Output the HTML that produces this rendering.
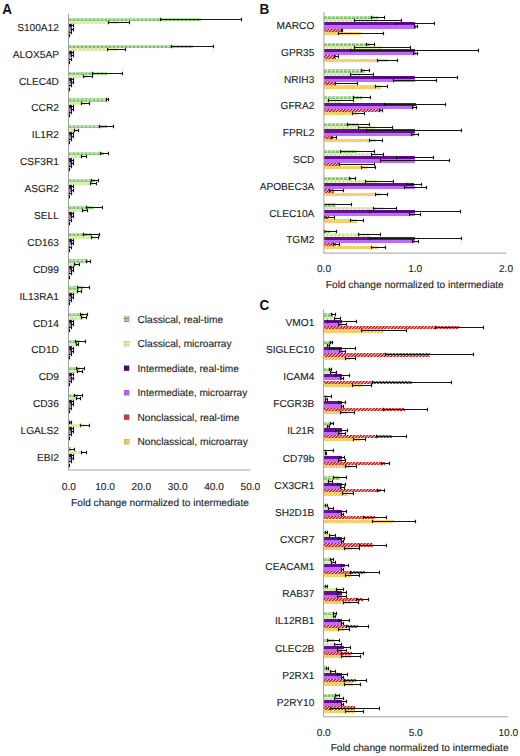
<!DOCTYPE html>
<html><head><meta charset="utf-8"><style>
html,body{margin:0;padding:0;background:#fff;}
body{width:520px;height:756px;overflow:hidden;}
svg{display:block;}
</style></head><body>
<svg width="520" height="756" viewBox="0 0 520 756">
<defs>
<pattern id="pCRT" patternUnits="userSpaceOnUse" width="4" height="3.2" x="0" y="0">
<rect width="4" height="3.2" fill="#c8ecbc"/><rect y="0.3" width="4" height="1.1" fill="#a0d09c"/><rect y="1.7" width="4" height="1.4" fill="#72b856"/><rect x="3" width="1" height="3.2" fill="#d4f2c8"/></pattern>
<pattern id="pCMA" patternUnits="userSpaceOnUse" width="4" height="3.2">
<rect width="4" height="3.2" fill="#eaf7c0"/><rect y="1.3" width="4" height="0.8" fill="#cfe9a2"/><rect x="3" width="1" height="3.2" fill="#bfe396"/></pattern>
<pattern id="pNRT" patternUnits="userSpaceOnUse" width="2.3" height="4" patternTransform="rotate(45)">
<rect width="2.3" height="4" fill="#d61c1c"/><rect width="0.75" height="4" fill="#fff0f0"/></pattern>
<pattern id="pNMA" patternUnits="userSpaceOnUse" width="2.3" height="4" patternTransform="rotate(45)">
<rect width="2.3" height="4" fill="#fcc038"/><rect width="0.75" height="4" fill="#fff4c8"/></pattern>
<pattern id="lCRT" patternUnits="userSpaceOnUse" width="5.2" height="2.6" y="0.2">
<rect width="5.2" height="2.6" fill="#a8dc98"/><rect y="0.9" width="5.2" height="0.9" fill="#4a9a44"/></pattern>
<pattern id="lCMA" patternUnits="userSpaceOnUse" width="5.2" height="2.6" y="0.2">
<rect width="5.2" height="2.6" fill="#e4f4b8"/><rect y="0.9" width="5.2" height="0.9" fill="#b8dc80"/></pattern>
</defs>
<rect width="520" height="756" fill="#fff"/>
<g shape-rendering="crispEdges">
<rect transform="translate(68.5 17.82)" width="132.2" height="3.2" fill="url(#pCRT)"/>
<rect transform="translate(68.5 21.02)" width="50.2" height="3.2" fill="url(#pCMA)"/>
<rect transform="translate(68.5 24.22)" width="3.6" height="3.2" fill="#650d93"/>
<rect transform="translate(68.5 27.42)" width="3.6" height="3.2" fill="#bd6cf8"/>
<rect transform="translate(68.5 30.62)" width="1.5" height="3.2" fill="url(#pNRT)"/>
<rect transform="translate(68.5 33.82)" width="0.7" height="3.2" fill="url(#pNMA)"/>
<rect transform="translate(68.5 44.67)" width="124" height="3.2" fill="url(#pCRT)"/>
<rect transform="translate(68.5 47.87)" width="48" height="3.2" fill="url(#pCMA)"/>
<rect transform="translate(68.5 51.07)" width="3.6" height="3.2" fill="#650d93"/>
<rect transform="translate(68.5 54.27)" width="3.6" height="3.2" fill="#bd6cf8"/>
<rect transform="translate(68.5 57.47)" width="1.5" height="3.2" fill="url(#pNRT)"/>
<rect transform="translate(68.5 60.67)" width="0.7" height="3.2" fill="url(#pNMA)"/>
<rect transform="translate(68.5 71.52)" width="38.75" height="3.2" fill="url(#pCRT)"/>
<rect transform="translate(68.5 74.72)" width="19.4" height="3.2" fill="url(#pCMA)"/>
<rect transform="translate(68.5 77.92)" width="3.6" height="3.2" fill="#650d93"/>
<rect transform="translate(68.5 81.12)" width="3.6" height="3.2" fill="#bd6cf8"/>
<rect transform="translate(68.5 84.32)" width="1.5" height="3.2" fill="url(#pNRT)"/>
<rect transform="translate(68.5 87.52)" width="0.7" height="3.2" fill="url(#pNMA)"/>
<rect transform="translate(68.5 98.38)" width="38.5" height="3.2" fill="url(#pCRT)"/>
<rect transform="translate(68.5 101.58)" width="16.9" height="3.2" fill="url(#pCMA)"/>
<rect transform="translate(68.5 104.78)" width="3.6" height="3.2" fill="#650d93"/>
<rect transform="translate(68.5 107.97)" width="3.6" height="3.2" fill="#bd6cf8"/>
<rect transform="translate(68.5 111.17)" width="1.5" height="3.2" fill="url(#pNRT)"/>
<rect transform="translate(68.5 114.38)" width="0.7" height="3.2" fill="url(#pNMA)"/>
<rect transform="translate(68.5 125.22)" width="38.1" height="3.2" fill="url(#pCRT)"/>
<rect transform="translate(68.5 128.42)" width="8.2" height="3.2" fill="url(#pCMA)"/>
<rect transform="translate(68.5 131.62)" width="3.6" height="3.2" fill="#650d93"/>
<rect transform="translate(68.5 134.82)" width="3.6" height="3.2" fill="#bd6cf8"/>
<rect transform="translate(68.5 138.03)" width="1.5" height="3.2" fill="url(#pNRT)"/>
<rect transform="translate(68.5 141.22)" width="0.7" height="3.2" fill="url(#pNMA)"/>
<rect transform="translate(68.5 152.07)" width="35.9" height="3.2" fill="url(#pCRT)"/>
<rect transform="translate(68.5 155.27)" width="15.4" height="3.2" fill="url(#pCMA)"/>
<rect transform="translate(68.5 158.47)" width="3.6" height="3.2" fill="#650d93"/>
<rect transform="translate(68.5 161.67)" width="3.6" height="3.2" fill="#bd6cf8"/>
<rect transform="translate(68.5 164.88)" width="1.5" height="3.2" fill="url(#pNRT)"/>
<rect transform="translate(68.5 168.07)" width="0.7" height="3.2" fill="url(#pNMA)"/>
<rect transform="translate(68.5 178.92)" width="26.4" height="3.2" fill="url(#pCRT)"/>
<rect transform="translate(68.5 182.12)" width="24.8" height="3.2" fill="url(#pCMA)"/>
<rect transform="translate(68.5 185.32)" width="3.6" height="3.2" fill="#650d93"/>
<rect transform="translate(68.5 188.52)" width="3.6" height="3.2" fill="#bd6cf8"/>
<rect transform="translate(68.5 191.72)" width="1.5" height="3.2" fill="url(#pNRT)"/>
<rect transform="translate(68.5 194.92)" width="0.7" height="3.2" fill="url(#pNMA)"/>
<rect transform="translate(68.5 205.77)" width="25.7" height="3.2" fill="url(#pCRT)"/>
<rect transform="translate(68.5 208.97)" width="16.8" height="3.2" fill="url(#pCMA)"/>
<rect transform="translate(68.5 212.17)" width="3.6" height="3.2" fill="#650d93"/>
<rect transform="translate(68.5 215.37)" width="3.6" height="3.2" fill="#bd6cf8"/>
<rect transform="translate(68.5 218.57)" width="1.5" height="3.2" fill="url(#pNRT)"/>
<rect transform="translate(68.5 221.77)" width="0.7" height="3.2" fill="url(#pNMA)"/>
<rect transform="translate(68.5 232.62)" width="23" height="3.2" fill="url(#pCRT)"/>
<rect transform="translate(68.5 235.82)" width="26.7" height="3.2" fill="url(#pCMA)"/>
<rect transform="translate(68.5 239.02)" width="3.6" height="3.2" fill="#650d93"/>
<rect transform="translate(68.5 242.22)" width="3.6" height="3.2" fill="#bd6cf8"/>
<rect transform="translate(68.5 245.42)" width="1.5" height="3.2" fill="url(#pNRT)"/>
<rect transform="translate(68.5 248.62)" width="0.7" height="3.2" fill="url(#pNMA)"/>
<rect transform="translate(68.5 259.47)" width="19.9" height="3.2" fill="url(#pCRT)"/>
<rect transform="translate(68.5 262.67)" width="8.8" height="3.2" fill="url(#pCMA)"/>
<rect transform="translate(68.5 265.87)" width="3.6" height="3.2" fill="#650d93"/>
<rect transform="translate(68.5 269.07)" width="3.6" height="3.2" fill="#bd6cf8"/>
<rect transform="translate(68.5 272.27)" width="1.5" height="3.2" fill="url(#pNRT)"/>
<rect transform="translate(68.5 275.47)" width="0.7" height="3.2" fill="url(#pNMA)"/>
<rect transform="translate(68.5 286.32)" width="14.8" height="3.2" fill="url(#pCRT)"/>
<rect transform="translate(68.5 289.52)" width="10.7" height="3.2" fill="url(#pCMA)"/>
<rect transform="translate(68.5 292.72)" width="3.6" height="3.2" fill="#650d93"/>
<rect transform="translate(68.5 295.93)" width="3.6" height="3.2" fill="#bd6cf8"/>
<rect transform="translate(68.5 299.12)" width="1.5" height="3.2" fill="url(#pNRT)"/>
<rect transform="translate(68.5 302.32)" width="0.7" height="3.2" fill="url(#pNMA)"/>
<rect transform="translate(68.5 313.17)" width="15.4" height="3.2" fill="url(#pCRT)"/>
<rect transform="translate(68.5 316.37)" width="15.5" height="3.2" fill="url(#pCMA)"/>
<rect transform="translate(68.5 319.57)" width="3.6" height="3.2" fill="#650d93"/>
<rect transform="translate(68.5 322.77)" width="3.6" height="3.2" fill="#bd6cf8"/>
<rect transform="translate(68.5 325.97)" width="1.5" height="3.2" fill="url(#pNRT)"/>
<rect transform="translate(68.5 329.17)" width="0.7" height="3.2" fill="url(#pNMA)"/>
<rect transform="translate(68.5 340.02)" width="11.9" height="3.2" fill="url(#pCRT)"/>
<rect transform="translate(68.5 343.22)" width="8.9" height="3.2" fill="url(#pCMA)"/>
<rect transform="translate(68.5 346.42)" width="3.6" height="3.2" fill="#650d93"/>
<rect transform="translate(68.5 349.62)" width="3.6" height="3.2" fill="#bd6cf8"/>
<rect transform="translate(68.5 352.82)" width="1.5" height="3.2" fill="url(#pNRT)"/>
<rect transform="translate(68.5 356.02)" width="0.7" height="3.2" fill="url(#pNMA)"/>
<rect transform="translate(68.5 366.87)" width="11.5" height="3.2" fill="url(#pCRT)"/>
<rect transform="translate(68.5 370.07)" width="11.3" height="3.2" fill="url(#pCMA)"/>
<rect transform="translate(68.5 373.27)" width="3.6" height="3.2" fill="#650d93"/>
<rect transform="translate(68.5 376.47)" width="3.6" height="3.2" fill="#bd6cf8"/>
<rect transform="translate(68.5 379.67)" width="1.5" height="3.2" fill="url(#pNRT)"/>
<rect transform="translate(68.5 382.87)" width="0.7" height="3.2" fill="url(#pNMA)"/>
<rect transform="translate(68.5 393.72)" width="9.9" height="3.2" fill="url(#pCRT)"/>
<rect transform="translate(68.5 396.92)" width="10.1" height="3.2" fill="url(#pCMA)"/>
<rect transform="translate(68.5 400.12)" width="3.6" height="3.2" fill="#650d93"/>
<rect transform="translate(68.5 403.32)" width="3.6" height="3.2" fill="#bd6cf8"/>
<rect transform="translate(68.5 406.52)" width="1.5" height="3.2" fill="url(#pNRT)"/>
<rect transform="translate(68.5 409.72)" width="0.7" height="3.2" fill="url(#pNMA)"/>
<rect transform="translate(68.5 420.57)" width="2" height="3.2" fill="url(#pCRT)"/>
<rect transform="translate(68.5 423.77)" width="16.8" height="3.2" fill="url(#pCMA)"/>
<rect transform="translate(68.5 426.97)" width="3.6" height="3.2" fill="#650d93"/>
<rect transform="translate(68.5 430.17)" width="3.6" height="3.2" fill="#bd6cf8"/>
<rect transform="translate(68.5 433.37)" width="1.5" height="3.2" fill="url(#pNRT)"/>
<rect transform="translate(68.5 436.57)" width="0.7" height="3.2" fill="url(#pNMA)"/>
<rect transform="translate(68.5 447.42)" width="2.9" height="3.2" fill="url(#pCRT)"/>
<rect transform="translate(68.5 450.62)" width="15.6" height="3.2" fill="url(#pCMA)"/>
<rect transform="translate(68.5 453.82)" width="3.6" height="3.2" fill="#650d93"/>
<rect transform="translate(68.5 457.02)" width="3.6" height="3.2" fill="#bd6cf8"/>
<rect transform="translate(68.5 460.22)" width="1.5" height="3.2" fill="url(#pNRT)"/>
<rect transform="translate(68.5 463.42)" width="0.7" height="3.2" fill="url(#pNMA)"/>
<rect transform="translate(323.9 15.79)" width="53.85" height="3.2" fill="url(#pCRT)"/>
<rect transform="translate(323.9 18.99)" width="54.1" height="3.2" fill="url(#pCMA)"/>
<rect transform="translate(323.9 22.19)" width="91" height="3.2" fill="#650d93"/>
<rect transform="translate(323.9 25.39)" width="91.6" height="3.2" fill="#bd6cf8"/>
<rect transform="translate(323.9 28.59)" width="17.85" height="3.2" fill="url(#pNRT)"/>
<rect transform="translate(323.9 31.79)" width="37.1" height="3.2" fill="url(#pNMA)"/>
<rect transform="translate(323.9 42.58)" width="46.6" height="3.2" fill="url(#pCRT)"/>
<rect transform="translate(323.9 45.78)" width="58.5" height="3.2" fill="url(#pCMA)"/>
<rect transform="translate(323.9 48.98)" width="90.7" height="3.2" fill="#650d93"/>
<rect transform="translate(323.9 52.18)" width="91.6" height="3.2" fill="#bd6cf8"/>
<rect transform="translate(323.9 55.38)" width="12.1" height="3.2" fill="url(#pNRT)"/>
<rect transform="translate(323.9 58.58)" width="63.6" height="3.2" fill="url(#pNMA)"/>
<rect transform="translate(323.9 69.37)" width="41.4" height="3.2" fill="url(#pCRT)"/>
<rect transform="translate(323.9 72.57)" width="37.6" height="3.2" fill="url(#pCMA)"/>
<rect transform="translate(323.9 75.77)" width="91.1" height="3.2" fill="#650d93"/>
<rect transform="translate(323.9 78.97)" width="91" height="3.2" fill="#bd6cf8"/>
<rect transform="translate(323.9 82.17)" width="11.5" height="3.2" fill="url(#pNRT)"/>
<rect transform="translate(323.9 85.37)" width="57.6" height="3.2" fill="url(#pNMA)"/>
<rect transform="translate(323.9 96.16)" width="38.1" height="3.2" fill="url(#pCRT)"/>
<rect transform="translate(323.9 99.36)" width="17.1" height="3.2" fill="url(#pCMA)"/>
<rect transform="translate(323.9 102.56)" width="91.6" height="3.2" fill="#650d93"/>
<rect transform="translate(323.9 105.76)" width="90.35" height="3.2" fill="#bd6cf8"/>
<rect transform="translate(323.9 108.96)" width="56.9" height="3.2" fill="url(#pNRT)"/>
<rect transform="translate(323.9 112.16)" width="34.5" height="3.2" fill="url(#pNMA)"/>
<rect transform="translate(323.9 122.95)" width="34.5" height="3.2" fill="url(#pCRT)"/>
<rect transform="translate(323.9 126.15)" width="51.35" height="3.2" fill="url(#pCMA)"/>
<rect transform="translate(323.9 129.35)" width="91.1" height="3.2" fill="#650d93"/>
<rect transform="translate(323.9 132.55)" width="90.85" height="3.2" fill="#bd6cf8"/>
<rect transform="translate(323.9 135.75)" width="9.1" height="3.2" fill="url(#pNRT)"/>
<rect transform="translate(323.9 138.95)" width="52" height="3.2" fill="url(#pNMA)"/>
<rect transform="translate(323.9 149.74)" width="33.1" height="3.2" fill="url(#pCRT)"/>
<rect transform="translate(323.9 152.94)" width="53.7" height="3.2" fill="url(#pCMA)"/>
<rect transform="translate(323.9 156.14)" width="90.85" height="3.2" fill="#650d93"/>
<rect transform="translate(323.9 159.34)" width="90.85" height="3.2" fill="#bd6cf8"/>
<rect transform="translate(323.9 162.54)" width="15.4" height="3.2" fill="url(#pNRT)"/>
<rect transform="translate(323.9 165.74)" width="44.5" height="3.2" fill="url(#pNMA)"/>
<rect transform="translate(323.9 176.53)" width="28.5" height="3.2" fill="url(#pCRT)"/>
<rect transform="translate(323.9 179.73)" width="55.6" height="3.2" fill="url(#pCMA)"/>
<rect transform="translate(323.9 182.93)" width="90.35" height="3.2" fill="#650d93"/>
<rect transform="translate(323.9 186.13)" width="91.2" height="3.2" fill="#bd6cf8"/>
<rect transform="translate(323.9 189.33)" width="10.6" height="3.2" fill="url(#pNRT)"/>
<rect transform="translate(323.9 192.53)" width="57.35" height="3.2" fill="url(#pNMA)"/>
<rect transform="translate(323.9 203.32)" width="12.6" height="3.2" fill="url(#pCRT)"/>
<rect transform="translate(323.9 206.52)" width="61.1" height="3.2" fill="url(#pCMA)"/>
<rect transform="translate(323.9 209.72)" width="91.1" height="3.2" fill="#650d93"/>
<rect transform="translate(323.9 212.92)" width="91" height="3.2" fill="#bd6cf8"/>
<rect transform="translate(323.9 216.12)" width="5.1" height="3.2" fill="url(#pNRT)"/>
<rect transform="translate(323.9 219.32)" width="33.1" height="3.2" fill="url(#pNMA)"/>
<rect transform="translate(323.9 230.11)" width="6.1" height="3.2" fill="url(#pCRT)"/>
<rect transform="translate(323.9 233.31)" width="45.35" height="3.2" fill="url(#pCMA)"/>
<rect transform="translate(323.9 236.51)" width="91.1" height="3.2" fill="#650d93"/>
<rect transform="translate(323.9 239.71)" width="91.35" height="3.2" fill="#bd6cf8"/>
<rect transform="translate(323.9 242.91)" width="12.1" height="3.2" fill="url(#pNRT)"/>
<rect transform="translate(323.9 246.11)" width="54.5" height="3.2" fill="url(#pNMA)"/>
<rect transform="translate(323.6 313.38)" width="9.4" height="3.2" fill="url(#pCRT)"/>
<rect transform="translate(323.6 316.58)" width="14" height="3.2" fill="url(#pCMA)"/>
<rect transform="translate(323.6 319.78)" width="18.3" height="3.2" fill="#650d93"/>
<rect transform="translate(323.6 322.98)" width="18.6" height="3.2" fill="#bd6cf8"/>
<rect transform="translate(323.6 326.18)" width="135.4" height="3.2" fill="url(#pNRT)"/>
<rect transform="translate(323.6 329.38)" width="60.1" height="3.2" fill="url(#pNMA)"/>
<rect transform="translate(323.6 340.54)" width="7.4" height="3.2" fill="url(#pCRT)"/>
<rect transform="translate(323.6 343.74)" width="4.8" height="3.2" fill="url(#pCMA)"/>
<rect transform="translate(323.6 346.94)" width="18.6" height="3.2" fill="#650d93"/>
<rect transform="translate(323.6 350.14)" width="18.9" height="3.2" fill="#bd6cf8"/>
<rect transform="translate(323.6 353.34)" width="106" height="3.2" fill="url(#pNRT)"/>
<rect transform="translate(323.6 356.54)" width="27" height="3.2" fill="url(#pNMA)"/>
<rect transform="translate(323.6 367.7)" width="6.4" height="3.2" fill="url(#pCRT)"/>
<rect transform="translate(323.6 370.9)" width="9.4" height="3.2" fill="url(#pCMA)"/>
<rect transform="translate(323.6 374.1)" width="18.4" height="3.2" fill="#650d93"/>
<rect transform="translate(323.6 377.3)" width="18.4" height="3.2" fill="#bd6cf8"/>
<rect transform="translate(323.6 380.5)" width="88.4" height="3.2" fill="url(#pNRT)"/>
<rect transform="translate(323.6 383.7)" width="38.4" height="3.2" fill="url(#pNMA)"/>
<rect transform="translate(323.6 394.86)" width="3.4" height="3.2" fill="url(#pCRT)"/>
<rect transform="translate(323.6 398.06)" width="2.4" height="3.2" fill="url(#pCMA)"/>
<rect transform="translate(323.6 401.26)" width="18.4" height="3.2" fill="#650d93"/>
<rect transform="translate(323.6 404.46)" width="18.4" height="3.2" fill="#bd6cf8"/>
<rect transform="translate(323.6 407.66)" width="81.8" height="3.2" fill="url(#pNRT)"/>
<rect transform="translate(323.6 410.86)" width="23.8" height="3.2" fill="url(#pNMA)"/>
<rect transform="translate(323.6 422.02)" width="8.3" height="3.2" fill="url(#pCRT)"/>
<rect transform="translate(323.6 425.22)" width="4.8" height="3.2" fill="url(#pCMA)"/>
<rect transform="translate(323.6 428.42)" width="17.9" height="3.2" fill="#650d93"/>
<rect transform="translate(323.6 431.62)" width="18.4" height="3.2" fill="#bd6cf8"/>
<rect transform="translate(323.6 434.82)" width="68.3" height="3.2" fill="url(#pNRT)"/>
<rect transform="translate(323.6 438.02)" width="35.9" height="3.2" fill="url(#pNMA)"/>
<rect transform="translate(323.6 449.18)" width="2.4" height="3.2" fill="url(#pCRT)"/>
<rect transform="translate(323.6 452.38)" width="2.4" height="3.2" fill="url(#pCMA)"/>
<rect transform="translate(323.6 455.58)" width="18.4" height="3.2" fill="#650d93"/>
<rect transform="translate(323.6 458.78)" width="18.4" height="3.2" fill="#bd6cf8"/>
<rect transform="translate(323.6 461.98)" width="61.7" height="3.2" fill="url(#pNRT)"/>
<rect transform="translate(323.6 465.18)" width="27.4" height="3.2" fill="url(#pNMA)"/>
<rect transform="translate(323.6 476.34)" width="16.4" height="3.2" fill="url(#pCRT)"/>
<rect transform="translate(323.6 479.54)" width="6.9" height="3.2" fill="url(#pCMA)"/>
<rect transform="translate(323.6 482.74)" width="18" height="3.2" fill="#650d93"/>
<rect transform="translate(323.6 485.94)" width="18.4" height="3.2" fill="#bd6cf8"/>
<rect transform="translate(323.6 489.14)" width="57.4" height="3.2" fill="url(#pNRT)"/>
<rect transform="translate(323.6 492.34)" width="24.1" height="3.2" fill="url(#pNMA)"/>
<rect transform="translate(323.6 503.5)" width="2.4" height="3.2" fill="url(#pCRT)"/>
<rect transform="translate(323.6 506.7)" width="7.1" height="3.2" fill="url(#pCMA)"/>
<rect transform="translate(323.6 509.9)" width="18.6" height="3.2" fill="#650d93"/>
<rect transform="translate(323.6 513.1)" width="18.4" height="3.2" fill="#bd6cf8"/>
<rect transform="translate(323.6 516.3)" width="50.9" height="3.2" fill="url(#pNRT)"/>
<rect transform="translate(323.6 519.5)" width="70" height="3.2" fill="url(#pNMA)"/>
<rect transform="translate(323.6 530.66)" width="2.5" height="3.2" fill="url(#pCRT)"/>
<rect transform="translate(323.6 533.86)" width="8.8" height="3.2" fill="url(#pCMA)"/>
<rect transform="translate(323.6 537.06)" width="18.1" height="3.2" fill="#650d93"/>
<rect transform="translate(323.6 540.26)" width="18.4" height="3.2" fill="#bd6cf8"/>
<rect transform="translate(323.6 543.46)" width="49.3" height="3.2" fill="url(#pNRT)"/>
<rect transform="translate(323.6 546.66)" width="28.3" height="3.2" fill="url(#pNMA)"/>
<rect transform="translate(323.6 557.82)" width="8.4" height="3.2" fill="url(#pCRT)"/>
<rect transform="translate(323.6 561.02)" width="10" height="3.2" fill="url(#pCMA)"/>
<rect transform="translate(323.6 564.22)" width="20.9" height="3.2" fill="#650d93"/>
<rect transform="translate(323.6 567.42)" width="18.4" height="3.2" fill="#bd6cf8"/>
<rect transform="translate(323.6 570.62)" width="41.5" height="3.2" fill="url(#pNRT)"/>
<rect transform="translate(323.6 573.82)" width="28.8" height="3.2" fill="url(#pNMA)"/>
<rect transform="translate(323.6 584.98)" width="2.4" height="3.2" fill="url(#pCRT)"/>
<rect transform="translate(323.6 588.18)" width="16.6" height="3.2" fill="url(#pCMA)"/>
<rect transform="translate(323.6 591.38)" width="18.4" height="3.2" fill="#650d93"/>
<rect transform="translate(323.6 594.58)" width="18.4" height="3.2" fill="#bd6cf8"/>
<rect transform="translate(323.6 597.78)" width="38.9" height="3.2" fill="url(#pNRT)"/>
<rect transform="translate(323.6 600.98)" width="27.3" height="3.2" fill="url(#pNMA)"/>
<rect transform="translate(323.6 612.14)" width="11" height="3.2" fill="url(#pCRT)"/>
<rect transform="translate(323.6 615.34)" width="10.6" height="3.2" fill="url(#pCMA)"/>
<rect transform="translate(323.6 618.54)" width="18.4" height="3.2" fill="#650d93"/>
<rect transform="translate(323.6 621.74)" width="18.4" height="3.2" fill="#bd6cf8"/>
<rect transform="translate(323.6 624.94)" width="34" height="3.2" fill="url(#pNRT)"/>
<rect transform="translate(323.6 628.14)" width="20.4" height="3.2" fill="url(#pNMA)"/>
<rect transform="translate(323.6 639.3)" width="10" height="3.2" fill="url(#pCRT)"/>
<rect transform="translate(323.6 642.5)" width="14" height="3.2" fill="url(#pCMA)"/>
<rect transform="translate(323.6 645.7)" width="20.4" height="3.2" fill="#650d93"/>
<rect transform="translate(323.6 648.9)" width="18.4" height="3.2" fill="#bd6cf8"/>
<rect transform="translate(323.6 652.1)" width="28.8" height="3.2" fill="url(#pNRT)"/>
<rect transform="translate(323.6 655.3)" width="26.9" height="3.2" fill="url(#pNMA)"/>
<rect transform="translate(323.6 666.46)" width="3.6" height="3.2" fill="url(#pCRT)"/>
<rect transform="translate(323.6 669.66)" width="8.9" height="3.2" fill="url(#pCMA)"/>
<rect transform="translate(323.6 672.86)" width="18.4" height="3.2" fill="#650d93"/>
<rect transform="translate(323.6 676.06)" width="18.4" height="3.2" fill="#bd6cf8"/>
<rect transform="translate(323.6 679.26)" width="31.9" height="3.2" fill="url(#pNRT)"/>
<rect transform="translate(323.6 682.46)" width="29" height="3.2" fill="url(#pNMA)"/>
<rect transform="translate(323.6 693.62)" width="14" height="3.2" fill="url(#pCRT)"/>
<rect transform="translate(323.6 696.82)" width="15.2" height="3.2" fill="url(#pCMA)"/>
<rect transform="translate(323.6 700.02)" width="18.4" height="3.2" fill="#650d93"/>
<rect transform="translate(323.6 703.22)" width="18.4" height="3.2" fill="#bd6cf8"/>
<rect transform="translate(323.6 706.42)" width="31.7" height="3.2" fill="url(#pNRT)"/>
<rect transform="translate(323.6 709.62)" width="31.1" height="3.2" fill="url(#pNMA)"/>
</g>
<g stroke="#141414" stroke-width="1.15" fill="none">
<path d="M160.5 19.5H241.5M160.5 17.8V21.2M241.5 17.8V21.2" />
<path d="M108.5 22.5H129.5M108.5 20.8V24.2M129.5 20.8V24.2" />
<path d="M70.5 25.5H73.5M70.5 23.8V27.2M73.5 23.8V27.2" />
<path d="M71.5 29.5H73.5M71.5 27.8V31.2M73.5 27.8V31.2" />
<path d="M68.5 32.5H71.5M68.5 30.8V34.2M71.5 30.8V34.2" />
<path d="M68.5 35.5H69.5M68.5 33.8V37.2M69.5 33.8V37.2" />
<path d="M171.5 46.5H213.5M171.5 44.8V48.2M213.5 44.8V48.2" />
<path d="M107.5 49.5H125.5M107.5 47.8V51.2M125.5 47.8V51.2" />
<path d="M70.5 52.5H73.5M70.5 50.8V54.2M73.5 50.8V54.2" />
<path d="M71.5 55.5H73.5M71.5 53.8V57.2M73.5 53.8V57.2" />
<path d="M68.5 59.5H71.5M68.5 57.8V61.2M71.5 57.8V61.2" />
<path d="M68.5 62.5H69.5M68.5 60.8V64.2M69.5 60.8V64.2" />
<path d="M92.5 73.5H122.5M92.5 71.8V75.2M122.5 71.8V75.2" />
<path d="M83.5 76.5H92.5M83.5 74.8V78.2M92.5 74.8V78.2" />
<path d="M70.5 79.5H73.5M70.5 77.8V81.2M73.5 77.8V81.2" />
<path d="M71.5 82.5H73.5M71.5 80.8V84.2M73.5 80.8V84.2" />
<path d="M68.5 85.5H71.5M68.5 83.8V87.2M71.5 83.8V87.2" />
<path d="M68.5 89.5H69.5M68.5 87.8V91.2M69.5 87.8V91.2" />
<path d="M106.5 99.5H108.5M106.5 97.8V101.2M108.5 97.8V101.2" />
<path d="M81.5 103.5H89.5M81.5 101.8V105.2M89.5 101.8V105.2" />
<path d="M70.5 106.5H73.5M70.5 104.8V108.2M73.5 104.8V108.2" />
<path d="M71.5 109.5H73.5M71.5 107.8V111.2M73.5 107.8V111.2" />
<path d="M68.5 112.5H71.5M68.5 110.8V114.2M71.5 110.8V114.2" />
<path d="M68.5 115.5H69.5M68.5 113.8V117.2M69.5 113.8V117.2" />
<path d="M99.5 126.5H113.5M99.5 124.8V128.2M113.5 124.8V128.2" />
<path d="M74.5 130.5H78.5M74.5 128.8V132.2M78.5 128.8V132.2" />
<path d="M70.5 133.5H73.5M70.5 131.8V135.2M73.5 131.8V135.2" />
<path d="M71.5 136.5H73.5M71.5 134.8V138.2M73.5 134.8V138.2" />
<path d="M68.5 139.5H71.5M68.5 137.8V141.2M71.5 137.8V141.2" />
<path d="M68.5 142.5H69.5M68.5 140.8V144.2M69.5 140.8V144.2" />
<path d="M100.5 153.5H108.5M100.5 151.8V155.2M108.5 151.8V155.2" />
<path d="M81.5 156.5H86.5M81.5 154.8V158.2M86.5 154.8V158.2" />
<path d="M70.5 160.5H73.5M70.5 158.8V162.2M73.5 158.8V162.2" />
<path d="M71.5 163.5H73.5M71.5 161.8V165.2M73.5 161.8V165.2" />
<path d="M68.5 166.5H71.5M68.5 164.8V168.2M71.5 164.8V168.2" />
<path d="M68.5 169.5H69.5M68.5 167.8V171.2M69.5 167.8V171.2" />
<path d="M91.5 180.5H98.5M91.5 178.8V182.2M98.5 178.8V182.2" />
<path d="M90.5 183.5H96.5M90.5 181.8V185.2M96.5 181.8V185.2" />
<path d="M70.5 186.5H73.5M70.5 184.8V188.2M73.5 184.8V188.2" />
<path d="M71.5 190.5H73.5M71.5 188.8V192.2M73.5 188.8V192.2" />
<path d="M68.5 193.5H71.5M68.5 191.8V195.2M71.5 191.8V195.2" />
<path d="M68.5 196.5H69.5M68.5 194.8V198.2M69.5 194.8V198.2" />
<path d="M86.5 207.5H102.5M86.5 205.8V209.2M102.5 205.8V209.2" />
<path d="M82.5 210.5H87.5M82.5 208.8V212.2M87.5 208.8V212.2" />
<path d="M70.5 213.5H73.5M70.5 211.8V215.2M73.5 211.8V215.2" />
<path d="M71.5 216.5H73.5M71.5 214.8V218.2M73.5 214.8V218.2" />
<path d="M68.5 220.5H71.5M68.5 218.8V222.2M71.5 218.8V222.2" />
<path d="M68.5 223.5H69.5M68.5 221.8V225.2M69.5 221.8V225.2" />
<path d="M83.5 234.5H99.5M83.5 232.8V236.2M99.5 232.8V236.2" />
<path d="M91.5 237.5H98.5M91.5 235.8V239.2M98.5 235.8V239.2" />
<path d="M70.5 240.5H73.5M70.5 238.8V242.2M73.5 238.8V242.2" />
<path d="M71.5 243.5H73.5M71.5 241.8V245.2M73.5 241.8V245.2" />
<path d="M68.5 247.5H71.5M68.5 245.8V249.2M71.5 245.8V249.2" />
<path d="M68.5 250.5H69.5M68.5 248.8V252.2M69.5 248.8V252.2" />
<path d="M86.5 261.5H90.5M86.5 259.8V263.2M90.5 259.8V263.2" />
<path d="M74.5 264.5H79.5M74.5 262.8V266.2M79.5 262.8V266.2" />
<path d="M70.5 267.5H73.5M70.5 265.8V269.2M73.5 265.8V269.2" />
<path d="M71.5 270.5H73.5M71.5 268.8V272.2M73.5 268.8V272.2" />
<path d="M68.5 273.5H71.5M68.5 271.8V275.2M71.5 271.8V275.2" />
<path d="M68.5 277.5H69.5M68.5 275.8V279.2M69.5 275.8V279.2" />
<path d="M77.5 287.5H89.5M77.5 285.8V289.2M89.5 285.8V289.2" />
<path d="M77.5 291.5H81.5M77.5 289.8V293.2M81.5 289.8V293.2" />
<path d="M70.5 294.5H73.5M70.5 292.8V296.2M73.5 292.8V296.2" />
<path d="M71.5 297.5H73.5M71.5 295.8V299.2M73.5 295.8V299.2" />
<path d="M68.5 300.5H71.5M68.5 298.8V302.2M71.5 298.8V302.2" />
<path d="M68.5 303.5H69.5M68.5 301.8V305.2M69.5 301.8V305.2" />
<path d="M80.5 314.5H87.5M80.5 312.8V316.2M87.5 312.8V316.2" />
<path d="M81.5 317.5H86.5M81.5 315.8V319.2M86.5 315.8V319.2" />
<path d="M70.5 321.5H73.5M70.5 319.8V323.2M73.5 319.8V323.2" />
<path d="M71.5 324.5H73.5M71.5 322.8V326.2M73.5 322.8V326.2" />
<path d="M68.5 327.5H71.5M68.5 325.8V329.2M71.5 325.8V329.2" />
<path d="M68.5 330.5H69.5M68.5 328.8V332.2M69.5 328.8V332.2" />
<path d="M75.5 341.5H85.5M75.5 339.8V343.2M85.5 339.8V343.2" />
<path d="M76.5 344.5H78.5M76.5 342.8V346.2M78.5 342.8V346.2" />
<path d="M70.5 348.5H73.5M70.5 346.8V350.2M73.5 346.8V350.2" />
<path d="M71.5 351.5H73.5M71.5 349.8V353.2M73.5 349.8V353.2" />
<path d="M68.5 354.5H71.5M68.5 352.8V356.2M71.5 352.8V356.2" />
<path d="M68.5 357.5H69.5M68.5 355.8V359.2M69.5 355.8V359.2" />
<path d="M76.5 368.5H84.5M76.5 366.8V370.2M84.5 366.8V370.2" />
<path d="M77.5 371.5H82.5M77.5 369.8V373.2M82.5 369.8V373.2" />
<path d="M70.5 374.5H73.5M70.5 372.8V376.2M73.5 372.8V376.2" />
<path d="M71.5 378.5H73.5M71.5 376.8V380.2M73.5 376.8V380.2" />
<path d="M68.5 381.5H71.5M68.5 379.8V383.2M71.5 379.8V383.2" />
<path d="M68.5 384.5H69.5M68.5 382.8V386.2M69.5 382.8V386.2" />
<path d="M74.5 395.5H82.5M74.5 393.8V397.2M82.5 393.8V397.2" />
<path d="M76.5 398.5H80.5M76.5 396.8V400.2M80.5 396.8V400.2" />
<path d="M70.5 401.5H73.5M70.5 399.8V403.2M73.5 399.8V403.2" />
<path d="M71.5 404.5H73.5M71.5 402.8V406.2M73.5 402.8V406.2" />
<path d="M68.5 408.5H71.5M68.5 406.8V410.2M71.5 406.8V410.2" />
<path d="M68.5 411.5H69.5M68.5 409.8V413.2M69.5 409.8V413.2" />
<path d="M69.5 422.5H71.5M69.5 420.8V424.2M71.5 420.8V424.2" />
<path d="M80.5 425.5H89.5M80.5 423.8V427.2M89.5 423.8V427.2" />
<path d="M70.5 428.5H73.5M70.5 426.8V430.2M73.5 426.8V430.2" />
<path d="M71.5 431.5H73.5M71.5 429.8V433.2M73.5 429.8V433.2" />
<path d="M68.5 434.5H71.5M68.5 432.8V436.2M71.5 432.8V436.2" />
<path d="M68.5 438.5H69.5M68.5 436.8V440.2M69.5 436.8V440.2" />
<path d="M68.5 449.5H74.5M68.5 447.8V451.2M74.5 447.8V451.2" />
<path d="M81.5 452.5H86.5M81.5 450.8V454.2M86.5 450.8V454.2" />
<path d="M70.5 455.5H73.5M70.5 453.8V457.2M73.5 453.8V457.2" />
<path d="M71.5 458.5H73.5M71.5 456.8V460.2M73.5 456.8V460.2" />
<path d="M68.5 461.5H71.5M68.5 459.8V463.2M71.5 459.8V463.2" />
<path d="M68.5 465.5H69.5M68.5 463.8V467.2M69.5 463.8V467.2" />
<path d="M371.5 17.5H384.5M371.5 15.8V19.2M384.5 15.8V19.2" />
<path d="M354.5 20.5H401.5M354.5 18.8V22.2M401.5 18.8V22.2" />
<path d="M395.5 23.5H434.5M395.5 21.8V25.2M434.5 21.8V25.2" />
<path d="M414.5 26.5H417.5M414.5 24.8V28.2M417.5 24.8V28.2" />
<path d="M341.5 30.5H342.5M341.5 28.8V32.2M342.5 28.8V32.2" />
<path d="M338.5 33.5H383.5M338.5 31.8V35.2M383.5 31.8V35.2" />
<path d="M366.5 44.5H374.5M366.5 42.8V46.2M374.5 42.8V46.2" />
<path d="M354.5 47.5H410.5M354.5 45.8V49.2M410.5 45.8V49.2" />
<path d="M350.5 50.5H478.5M350.5 48.8V52.2M478.5 48.8V52.2" />
<path d="M413.5 53.5H417.5M413.5 51.8V55.2M417.5 51.8V55.2" />
<path d="M334.5 56.5H338.5M334.5 54.8V58.2M338.5 54.8V58.2" />
<path d="M377.5 60.5H397.5M377.5 58.8V62.2M397.5 58.8V62.2" />
<path d="M361.5 70.5H369.5M361.5 68.8V72.2M369.5 68.8V72.2" />
<path d="M350.5 74.5H373.5M350.5 72.8V76.2M373.5 72.8V76.2" />
<path d="M373.5 77.5H457.5M373.5 75.8V79.2M457.5 75.8V79.2" />
<path d="M393.5 80.5H436.5M393.5 78.8V82.2M436.5 78.8V82.2" />
<path d="M335.5 83.5H357.5M335.5 81.8V85.2M357.5 81.8V85.2" />
<path d="M375.5 86.5H387.5M375.5 84.8V88.2M387.5 84.8V88.2" />
<path d="M353.5 97.5H370.5M353.5 95.8V99.2M370.5 95.8V99.2" />
<path d="M328.5 100.5H353.5M328.5 98.8V102.2M353.5 98.8V102.2" />
<path d="M384.5 104.5H445.5M384.5 102.8V106.2M445.5 102.8V106.2" />
<path d="M412.5 107.5H416.5M412.5 105.8V109.2M416.5 105.8V109.2" />
<path d="M379.5 110.5H382.5M379.5 108.8V112.2M382.5 108.8V112.2" />
<path d="M352.5 113.5H364.5M352.5 111.8V115.2M364.5 111.8V115.2" />
<path d="M347.5 124.5H369.5M347.5 122.8V126.2M369.5 122.8V126.2" />
<path d="M358.5 127.5H392.5M358.5 125.8V129.2M392.5 125.8V129.2" />
<path d="M366.5 130.5H461.5M366.5 128.8V132.2M461.5 128.8V132.2" />
<path d="M411.5 134.5H418.5M411.5 132.8V136.2M418.5 132.8V136.2" />
<path d="M331.5 137.5H336.5M331.5 135.8V139.2M336.5 135.8V139.2" />
<path d="M369.5 140.5H382.5M369.5 138.8V142.2M382.5 138.8V142.2" />
<path d="M340.5 151.5H374.5M340.5 149.8V153.2M374.5 149.8V153.2" />
<path d="M371.5 154.5H383.5M371.5 152.8V156.2M383.5 152.8V156.2" />
<path d="M396.5 157.5H433.5M396.5 155.8V159.2M433.5 155.8V159.2" />
<path d="M380.5 160.5H449.5M380.5 158.8V162.2M449.5 158.8V162.2" />
<path d="M339.5 164.5H374.5M339.5 162.8V166.2M374.5 162.8V166.2" />
<path d="M361.5 167.5H375.5M361.5 165.8V169.2M375.5 165.8V169.2" />
<path d="M349.5 178.5H355.5M349.5 176.8V180.2M355.5 176.8V180.2" />
<path d="M365.5 181.5H393.5M365.5 179.8V183.2M393.5 179.8V183.2" />
<path d="M406.5 184.5H421.5M406.5 182.8V186.2M421.5 182.8V186.2" />
<path d="M404.5 187.5H426.5M404.5 185.8V189.2M426.5 185.8V189.2" />
<path d="M329.5 190.5H343.5M329.5 188.8V192.2M343.5 188.8V192.2" />
<path d="M375.5 194.5H387.5M375.5 192.8V196.2M387.5 192.8V196.2" />
<path d="M324.4 204.5H351.5M351.5 202.8V206.2" />
<path d="M373.5 208.5H396.5M373.5 206.8V210.2M396.5 206.8V210.2" />
<path d="M369.5 211.5H460.5M369.5 209.8V213.2M460.5 209.8V213.2" />
<path d="M409.5 214.5H420.5M409.5 212.8V216.2M420.5 212.8V216.2" />
<path d="M324.5 217.5H334.5M324.5 215.8V219.2M334.5 215.8V219.2" />
<path d="M350.5 220.5H363.5M350.5 218.8V222.2M363.5 218.8V222.2" />
<path d="M324.5 231.5H336.5M324.5 229.8V233.2M336.5 229.8V233.2" />
<path d="M358.5 234.5H380.5M358.5 232.8V236.2M380.5 232.8V236.2" />
<path d="M369.5 238.5H461.5M369.5 236.8V240.2M461.5 236.8V240.2" />
<path d="M412.5 241.5H418.5M412.5 239.8V243.2M418.5 239.8V243.2" />
<path d="M333.5 244.5H339.5M333.5 242.8V246.2M339.5 242.8V246.2" />
<path d="M371.5 247.5H385.5M371.5 245.8V249.2M385.5 245.8V249.2" />
<path d="M331.5 314.5H335.5M331.5 312.8V316.2M335.5 312.8V316.2" />
<path d="M334.5 318.5H340.5M334.5 316.8V320.2M340.5 316.8V320.2" />
<path d="M327.5 321.5H356.5M327.5 319.8V323.2M356.5 319.8V323.2" />
<path d="M338.5 324.5H346.5M338.5 322.8V326.2M346.5 322.8V326.2" />
<path d="M435.5 327.5H483.5M435.5 325.8V329.2M483.5 325.8V329.2" />
<path d="M361.5 330.5H406.5M361.5 328.8V332.2M406.5 328.8V332.2" />
<path d="M330.5 342.5H332.5M330.5 340.8V344.2M332.5 340.8V344.2" />
<path d="M327.5 345.5H329.5M327.5 343.8V347.2M329.5 343.8V347.2" />
<path d="M329.5 348.5H355.5M329.5 346.8V350.2M355.5 346.8V350.2" />
<path d="M339.5 351.5H345.5M339.5 349.8V353.2M345.5 349.8V353.2" />
<path d="M385.5 354.5H473.5M385.5 352.8V356.2M473.5 352.8V356.2" />
<path d="M345.5 358.5H355.5M345.5 356.8V360.2M355.5 356.8V360.2" />
<path d="M329.5 369.5H331.5M329.5 367.8V371.2M331.5 367.8V371.2" />
<path d="M330.5 372.5H336.5M330.5 370.8V374.2M336.5 370.8V374.2" />
<path d="M335.5 375.5H349.5M335.5 373.8V377.2M349.5 373.8V377.2" />
<path d="M340.5 378.5H343.5M340.5 376.8V380.2M343.5 376.8V380.2" />
<path d="M372.5 382.5H451.5M372.5 380.8V384.2M451.5 380.8V384.2" />
<path d="M352.5 385.5H371.5M352.5 383.8V387.2M371.5 383.8V387.2" />
<path d="M324.1 396.5H331.5M331.5 394.8V398.2" />
<path d="M325.5 399.5H327.5M325.5 397.8V401.2M327.5 397.8V401.2" />
<path d="M338.5 402.5H345.5M338.5 400.8V404.2M345.5 400.8V404.2" />
<path d="M341.5 406.5H343.5M341.5 404.8V408.2M343.5 404.8V408.2" />
<path d="M383.5 409.5H427.5M383.5 407.8V411.2M427.5 407.8V411.2" />
<path d="M340.5 412.5H354.5M340.5 410.8V414.2M354.5 410.8V414.2" />
<path d="M330.5 423.5H333.5M330.5 421.8V425.2M333.5 421.8V425.2" />
<path d="M327.5 426.5H329.5M327.5 424.8V428.2M329.5 424.8V428.2" />
<path d="M335.5 430.5H347.5M335.5 428.8V432.2M347.5 428.8V432.2" />
<path d="M338.5 433.5H345.5M338.5 431.8V435.2M345.5 431.8V435.2" />
<path d="M376.5 436.5H406.5M376.5 434.8V438.2M406.5 434.8V438.2" />
<path d="M353.5 439.5H365.5M353.5 437.8V441.2M365.5 437.8V441.2" />
<path d="M324.1 450.5H333.5M333.5 448.8V452.2" />
<path d="M325.5 453.5H326.5M325.5 451.8V455.2M326.5 451.8V455.2" />
<path d="M339.5 457.5H344.5M339.5 455.8V459.2M344.5 455.8V459.2" />
<path d="M338.5 460.5H345.5M338.5 458.8V462.2M345.5 458.8V462.2" />
<path d="M381.5 463.5H389.5M381.5 461.8V465.2M389.5 461.8V465.2" />
<path d="M345.5 466.5H356.5M345.5 464.8V468.2M356.5 464.8V468.2" />
<path d="M333.5 477.5H346.5M333.5 475.8V479.2M346.5 475.8V479.2" />
<path d="M328.5 481.5H332.5M328.5 479.8V483.2M332.5 479.8V483.2" />
<path d="M337.5 484.5H345.5M337.5 482.8V486.2M345.5 482.8V486.2" />
<path d="M340.5 487.5H344.5M340.5 485.8V489.2M344.5 485.8V489.2" />
<path d="M377.5 490.5H384.5M377.5 488.8V492.2M384.5 488.8V492.2" />
<path d="M342.5 493.5H353.5M342.5 491.8V495.2M353.5 491.8V495.2" />
<path d="M325.5 505.5H327.5M325.5 503.8V507.2M327.5 503.8V507.2" />
<path d="M328.5 508.5H333.5M328.5 506.8V510.2M333.5 506.8V510.2" />
<path d="M337.5 511.5H346.5M337.5 509.8V513.2M346.5 509.8V513.2" />
<path d="M341.5 514.5H343.5M341.5 512.8V516.2M343.5 512.8V516.2" />
<path d="M363.5 517.5H386.5M363.5 515.8V519.2M386.5 515.8V519.2" />
<path d="M372.5 521.5H415.5M372.5 519.8V523.2M415.5 519.8V523.2" />
<path d="M325.5 532.5H327.5M325.5 530.8V534.2M327.5 530.8V534.2" />
<path d="M329.5 535.5H335.5M329.5 533.8V537.2M335.5 533.8V537.2" />
<path d="M338.5 538.5H344.5M338.5 536.8V540.2M344.5 536.8V540.2" />
<path d="M341.5 541.5H343.5M341.5 539.8V543.2M343.5 539.8V543.2" />
<path d="M359.5 545.5H386.5M359.5 543.8V547.2M386.5 543.8V547.2" />
<path d="M344.5 548.5H359.5M344.5 546.8V550.2M359.5 546.8V550.2" />
<path d="M330.5 559.5H333.5M330.5 557.8V561.2M333.5 557.8V561.2" />
<path d="M331.5 562.5H335.5M331.5 560.8V564.2M335.5 560.8V564.2" />
<path d="M341.5 565.5H348.5M341.5 563.8V567.2M348.5 563.8V567.2" />
<path d="M341.5 569.5H343.5M341.5 567.8V571.2M343.5 567.8V571.2" />
<path d="M350.5 572.5H379.5M350.5 570.8V574.2M379.5 570.8V574.2" />
<path d="M345.5 575.5H359.5M345.5 573.8V577.2M359.5 573.8V577.2" />
<path d="M325.5 586.5H327.5M325.5 584.8V588.2M327.5 584.8V588.2" />
<path d="M336.5 589.5H343.5M336.5 587.8V591.2M343.5 587.8V591.2" />
<path d="M337.5 592.5H346.5M337.5 590.8V594.2M346.5 590.8V594.2" />
<path d="M337.5 596.5H346.5M337.5 594.8V598.2M346.5 594.8V598.2" />
<path d="M356.5 599.5H368.5M356.5 597.8V601.2M368.5 597.8V601.2" />
<path d="M343.5 602.5H358.5M343.5 600.8V604.2M358.5 600.8V604.2" />
<path d="M333.5 613.5H336.5M333.5 611.8V615.2M336.5 611.8V615.2" />
<path d="M333.5 616.5H335.5M333.5 614.8V618.2M335.5 614.8V618.2" />
<path d="M338.5 620.5H349.5M338.5 618.8V622.2M349.5 618.8V622.2" />
<path d="M341.5 623.5H343.5M341.5 621.8V625.2M343.5 621.8V625.2" />
<path d="M346.5 626.5H368.5M346.5 624.8V628.2M368.5 624.8V628.2" />
<path d="M338.5 629.5H349.5M338.5 627.8V631.2M349.5 627.8V631.2" />
<path d="M327.5 640.5H339.5M327.5 638.8V642.2M339.5 638.8V642.2" />
<path d="M334.5 644.5H341.5M334.5 642.8V646.2M341.5 642.8V646.2" />
<path d="M337.5 647.5H350.5M337.5 645.8V649.2M350.5 645.8V649.2" />
<path d="M337.5 650.5H346.5M337.5 648.8V652.2M346.5 648.8V652.2" />
<path d="M341.5 653.5H363.5M341.5 651.8V655.2M363.5 651.8V655.2" />
<path d="M341.5 656.5H360.5M341.5 654.8V658.2M360.5 654.8V658.2" />
<path d="M326.5 668.5H328.5M326.5 666.8V670.2M328.5 666.8V670.2" />
<path d="M330.5 671.5H335.5M330.5 669.8V673.2M335.5 669.8V673.2" />
<path d="M337.5 674.5H347.5M337.5 672.8V676.2M347.5 672.8V676.2" />
<path d="M341.5 677.5H343.5M341.5 675.8V679.2M343.5 675.8V679.2" />
<path d="M344.5 680.5H366.5M344.5 678.8V682.2M366.5 678.8V682.2" />
<path d="M344.5 684.5H360.5M344.5 682.8V686.2M360.5 682.8V686.2" />
<path d="M335.5 695.5H339.5M335.5 693.8V697.2M339.5 693.8V697.2" />
<path d="M334.5 698.5H343.5M334.5 696.8V700.2M343.5 696.8V700.2" />
<path d="M337.5 701.5H346.5M337.5 699.8V703.2M346.5 699.8V703.2" />
<path d="M341.5 704.5H343.5M341.5 702.8V706.2M343.5 702.8V706.2" />
<path d="M330.5 708.5H379.5M330.5 706.8V710.2M379.5 706.8V710.2" />
<path d="M345.5 711.5H363.5M345.5 709.8V713.2M363.5 709.8V713.2" />
</g>
<g stroke="#a0a0a0" stroke-width="1" fill="none">
<path d="M68.5 14V470H250.3"/>
<path d="M323.9 12V253.1H506.2"/>
<path d="M323.6 309.4V716.8H507.8"/>
</g>
<g text-rendering="geometricPrecision" font-family='"Liberation Sans", sans-serif' font-size="10.15" fill="#1e1e1e" stroke="#1e1e1e" stroke-width="0.12">
<text x="58.9" y="30.75" text-anchor="end">S100A12</text>
<text x="58.9" y="57.64" text-anchor="end">ALOX5AP</text>
<text x="58.9" y="84.53" text-anchor="end">CLEC4D</text>
<text x="58.9" y="111.42" text-anchor="end">CCR2</text>
<text x="58.9" y="138.31" text-anchor="end">IL1R2</text>
<text x="58.9" y="165.2" text-anchor="end">CSF3R1</text>
<text x="58.9" y="192.09" text-anchor="end">ASGR2</text>
<text x="58.9" y="218.98" text-anchor="end">SELL</text>
<text x="58.9" y="245.87" text-anchor="end">CD163</text>
<text x="58.9" y="272.76" text-anchor="end">CD99</text>
<text x="58.9" y="299.65" text-anchor="end">IL13RA1</text>
<text x="58.9" y="326.54" text-anchor="end">CD14</text>
<text x="58.9" y="353.43" text-anchor="end">CD1D</text>
<text x="58.9" y="380.32" text-anchor="end">CD9</text>
<text x="58.9" y="407.21" text-anchor="end">CD36</text>
<text x="58.9" y="434.1" text-anchor="end">LGALS2</text>
<text x="58.9" y="460.99" text-anchor="end">EBI2</text>
<text x="68.8" y="489.8" text-anchor="middle">0.0</text>
<text x="105.1" y="489.8" text-anchor="middle">10.0</text>
<text x="141.4" y="489.8" text-anchor="middle">20.0</text>
<text x="177.7" y="489.8" text-anchor="middle">30.0</text>
<text x="214" y="489.8" text-anchor="middle">40.0</text>
<text x="250.4" y="489.8" text-anchor="middle">50.0</text>
<text x="160" y="505.6" text-anchor="middle">Fold change normalized to intermediate</text>
<text x="314.3" y="29.15" text-anchor="end">MARCO</text>
<text x="314.3" y="55.93" text-anchor="end">GPR35</text>
<text x="314.3" y="82.71" text-anchor="end">NRIH3</text>
<text x="314.3" y="109.49" text-anchor="end">GFRA2</text>
<text x="314.3" y="136.27" text-anchor="end">FPRL2</text>
<text x="314.3" y="163.05" text-anchor="end">SCD</text>
<text x="314.3" y="189.83" text-anchor="end">APOBEC3A</text>
<text x="314.3" y="216.61" text-anchor="end">CLEC10A</text>
<text x="314.3" y="243.39" text-anchor="end">TGM2</text>
<text x="324" y="271.9" text-anchor="middle">0.0</text>
<text x="415.2" y="271.9" text-anchor="middle">1.0</text>
<text x="506" y="271.9" text-anchor="middle">2.0</text>
<text x="414.8" y="287.6" text-anchor="middle">Fold change normalized to intermediate</text>
<text x="314.3" y="325.95" text-anchor="end">VMO1</text>
<text x="314.3" y="353.08" text-anchor="end">SIGLEC10</text>
<text x="314.3" y="380.21" text-anchor="end">ICAM4</text>
<text x="314.3" y="407.34" text-anchor="end">FCGR3B</text>
<text x="314.3" y="434.47" text-anchor="end">IL21R</text>
<text x="314.3" y="461.6" text-anchor="end">CD79b</text>
<text x="314.3" y="488.73" text-anchor="end">CX3CR1</text>
<text x="314.3" y="515.86" text-anchor="end">SH2D1B</text>
<text x="314.3" y="542.99" text-anchor="end">CXCR7</text>
<text x="314.3" y="570.12" text-anchor="end">CEACAM1</text>
<text x="314.3" y="597.25" text-anchor="end">RAB37</text>
<text x="314.3" y="624.38" text-anchor="end">IL12RB1</text>
<text x="314.3" y="651.51" text-anchor="end">CLEC2B</text>
<text x="314.3" y="678.64" text-anchor="end">P2RX1</text>
<text x="314.3" y="705.77" text-anchor="end">P2RY10</text>
<text x="323.7" y="735.6" text-anchor="middle">0.0</text>
<text x="415.7" y="735.6" text-anchor="middle">5.0</text>
<text x="508.3" y="735.6" text-anchor="middle">10.0</text>
<text x="419.6" y="750.5" text-anchor="middle">Fold change normalized to intermediate</text>
<rect x="124" y="316.6" width="5.2" height="5.2" fill="url(#lCRT)"/>
<text x="137.5" y="322.83">Classical, real-time</text>
<rect x="124" y="341.1" width="5.2" height="5.2" fill="url(#lCMA)"/>
<text x="137.5" y="347.33">Classical, microarray</text>
<rect x="124" y="365.6" width="5.2" height="5.2" fill="#4f0a6a"/>
<text x="137.5" y="371.83">Intermediate, real-time</text>
<rect x="124" y="390.1" width="5.2" height="5.2" fill="#a866e8"/>
<text x="137.5" y="396.33">Intermediate, microarray</text>
<rect x="124" y="414.6" width="5.2" height="5.2" fill="#c83c3c"/>
<text x="137.5" y="420.83">Nonclassical, real-time</text>
<rect x="124" y="439.1" width="5.2" height="5.2" fill="#f0c850"/>
<text x="137.5" y="445.33">Nonclassical, microarray</text>
</g>
<g font-family='"Liberation Sans", sans-serif' font-size="13.5" font-weight="bold" fill="#111">
<text transform="translate(2.3 14.2) scale(1 1.12)">A</text>
<text transform="translate(259.5 14.2) scale(1 1.12)">B</text>
<text transform="translate(259.5 310.2) scale(1 1.12)">C</text>
</g>
</svg>
</body></html>
